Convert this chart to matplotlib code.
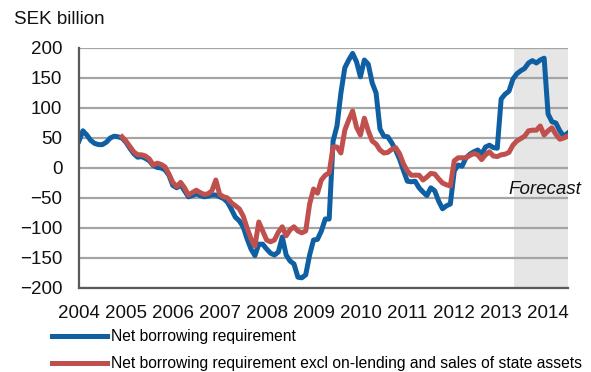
import matplotlib.pyplot as plt
import numpy as np

plt.rcParams['font.family'] = ['Liberation Sans', 'DejaVu Sans']

# Rolling 12-month figures, SEK billion, monthly from Jan 2004
years = ['2004', '2005', '2006', '2007', '2008', '2009', '2010',
         '2011', '2012', '2013', '2014']

net_borrowing = [45, 62, 55, 46, 41, 39, 39, 43, 50, 53, 52, 50,
                 43, 33, 24, 18, 19, 16, 12, 4, 1, 0, -3, -12,
                 -29, -33, -28, -38, -48, -46, -43, -46, -48, -47, -45, -45,
                 -48, -51, -57, -69, -82, -88, -98, -118, -135, -146, -127, -127,
                 -135, -142, -145, -140, -115, -145, -155, -160, -182, -183, -178, -145,
                 -120, -119, -105, -85, -85, 45, 70, 125, 167, 180, 191, 177,
                 152, 180, 173, 142, 125, 65, 53, 52, 42, 30, 15, -4,
                 -22, -23, -22, -33, -40, -46, -33, -38, -55, -68, -63, -60,
                 -5, 5, 3, 17, 23, 27, 30, 23, 35, 38, 34, 33,
                 115, 123, 128, 148, 157, 162, 166, 175, 179, 175, 180, 183,
                 90, 77, 75, 62, 53, 58]

net_borrowing_excl = [np.nan] * 11 + [
                 52,
                 45, 36, 27, 22, 22, 20, 15, 5, 8, 6, 2, -10,
                 -24, -31, -24, -33, -45, -41, -37, -41, -44, -43, -38, -20,
                 -44, -48, -50, -58, -63, -68, -80, -100, -118, -130, -90, -105,
                 -120, -123, -120, -107, -98, -113, -103, -98, -105, -108, -105, -60,
                 -35, -42, -20, -12, -8, 35, 35, 25, 63, 80, 95, 68,
                 55, 83, 62, 45, 40, 30, 25, 26, 31, 34, 24, 7,
                 -5, -12, -12, -12, -20, -15, -9, -10, -18, -25, -28, -30,
                 12, 17, 17, 17, 21, 24, 22, 14, 22, 27, 20, 19,
                 22, 23, 26, 38, 45, 49, 53, 62, 63, 63, 70, 55,
                 62, 67, 56, 48, 50, 53]

forecast_start = 111.3

BLUE = '#0F5FA3'
RED = '#C0504D'
FS = 13.5
LEG_FS = 11.25

months = np.arange(len(net_borrowing))

fig = plt.figure(figsize=(5.91, 3.72), dpi=100)
ax = fig.add_axes([79/591, 84/372, 489/591, 240/372])

ax.axvspan(forecast_start, 125.1, color='#E6E6E6', zorder=0, lw=0)

ax.plot(months, net_borrowing, color=BLUE, lw=3.6, zorder=3,
        solid_joinstyle='round', label='Net borrowing requirement')
ax.plot(months, net_borrowing_excl, color=RED, lw=3.6, zorder=4,
        solid_joinstyle='round',
        label='Net borrowing requirement excl on-lending and sales of state assets')

ax.set_xlim(0, 125.1)
ax.set_ylim(-200, 200)
ax.set_yticks(np.arange(-200, 201, 50))
ax.set_xticks(np.arange(0, 121, 12))
ax.set_xticklabels(years)

ax.grid(axis='y', color='#A5A5A5', lw=1.6, zorder=1)
ax.grid(axis='x', visible=False)
ax.set_axisbelow(True)

for s in ['top', 'right']:
    ax.spines[s].set_visible(False)
for s in ['left', 'bottom']:
    ax.spines[s].set_color('#5A5A5A')
    ax.spines[s].set_linewidth(1.6)
    ax.spines[s].set_zorder(5)

ax.tick_params(axis='both', length=0, labelsize=FS, colors='#111111')
ax.tick_params(axis='y', pad=12)
ax.tick_params(axis='x', pad=12)

ax.text(109.8, -35, 'Forecast', fontsize=FS, style='italic', ha='left',
        va='center', color='#111111', clip_on=False)

fig.text(14/591, 1 - 20/372, 'SEK billion', fontsize=FS, ha='left',
         va='center', color='#111111')

ax.legend(loc='upper left', bbox_to_anchor=(52/591, 1 - 329/372),
          bbox_transform=fig.transFigure, frameon=False, fontsize=LEG_FS,
          handlelength=3.5, handletextpad=0.3, labelspacing=0.78,
          borderpad=0, borderaxespad=0)

fig.savefig('out.png', dpi=100)
